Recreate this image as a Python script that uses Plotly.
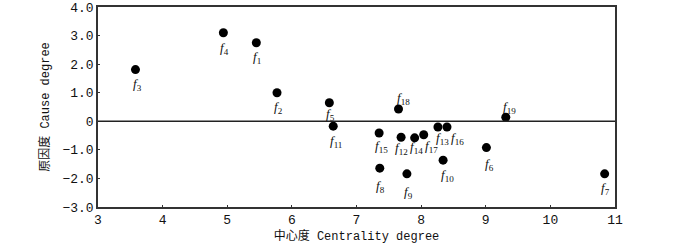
import plotly.graph_objects as go

labels = ["1","2","3","4","5","6","7","8","9","10","11","12","13","14","15","16","17","18","19"]
centrality = [5.45, 5.77, 3.58, 4.94, 6.58, 9.01, 10.84, 7.36, 7.78, 8.34, 6.64, 7.69, 8.26, 7.90, 7.35, 8.40, 8.04, 7.65, 9.31]
cause = [2.75, 1.00, 1.81, 3.10, 0.65, -0.92, -1.84, -1.64, -1.84, -1.36, -0.17, -0.56, -0.20, -0.58, -0.41, -0.20, -0.47, 0.43, 0.14]
# label offsets in pixels (dx, dy)
label_dx = [1, 1, 2, 1, 1, 3, 1, 1, 2, 4, 3, 0, 5, 2, 2, 11, 8, 5, 4]
label_dy = [-15, -15, -15, -16, -12, -17, -15, -18, -19, -15, -15, -11, -11, -10, -13, -11, -12, 11, 10]

ytickvals = [-3, -2, -1, 0, 1, 2, 3, 4]
yticktext = ["−3.0", "−2.0", "−1.0", "0", "1.0", "2.0", "3.0", "4.0"]
xtickvals = [3, 4, 5, 6, 7, 8, 9, 10, 11]

fig = go.Figure()
fig.add_trace(go.Scatter(
    x=centrality, y=cause, mode="markers",
    marker=dict(size=9, color="black"),
    hoverinfo="skip", showlegend=False))

for lab, x, y, dx, dy in zip(labels, centrality, cause, label_dx, label_dy):
    fig.add_annotation(x=x, y=y, xref="x", yref="y", showarrow=False,
                       text=f"<i>f</i><sub>{lab}</sub>", xshift=dx, yshift=dy,
                       font=dict(family="Liberation Serif", size=13, color="#111"))

fig.add_shape(type="line", xref="paper", yref="y", x0=0, x1=1, y0=0, y1=0,
              line=dict(color="#222", width=1.5))

axis_common = dict(showgrid=False, zeroline=False, showline=True, mirror=True,
                   linecolor="#333", linewidth=1.5, ticks="inside", ticklen=2,
                   tickcolor="#333", tickwidth=1, automargin=False,
                   tickfont=dict(family="Liberation Mono", size=13, color="#111"))

fig.update_xaxes(range=[3, 11], tickvals=xtickvals, **axis_common,
                 title=dict(text="中心度 Centrality degree", standoff=4,
                            font=dict(family="Liberation Mono, Noto Sans CJK SC", size=12, color="#111")))
fig.update_yaxes(range=[-3, 4], tickvals=ytickvals, ticktext=yticktext, **axis_common,
                 title=dict(text="原因度 Cause degree", standoff=10,
                            font=dict(family="Liberation Mono, Noto Sans CJK SC", size=12, color="#111")))

fig.update_layout(width=700, height=244, margin=dict(l=98, r=85, t=7, b=37),
                  plot_bgcolor="white", paper_bgcolor="white")

fig.write_html("out.html", config={"displayModeBar": False},
               post_script="document.body.style.margin='0';")
